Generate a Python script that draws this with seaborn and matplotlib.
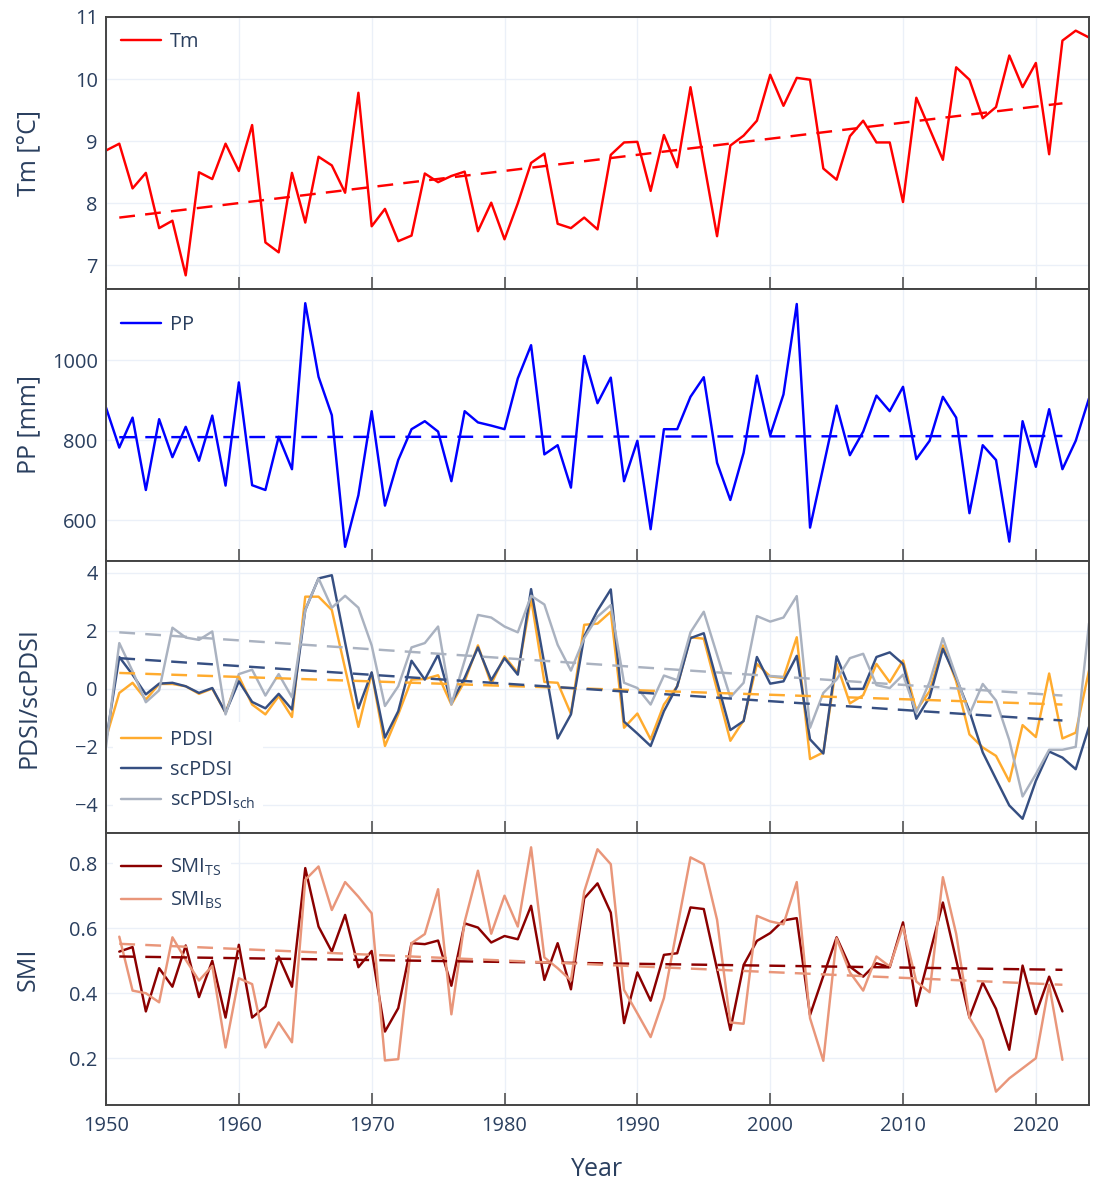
import numpy as np
import matplotlib
matplotlib.use("Agg")
import matplotlib.pyplot as plt
import seaborn as sns

# --- data ---
years = np.arange(1950, 2025)
smi_years = np.arange(1951, 2023)
trend_years = [1951, 2022]

tm = [8.85, 8.96, 8.24, 8.49, 7.60, 7.72, 6.84, 8.50, 8.39, 8.96,
      8.52, 9.26, 7.37, 7.21, 8.49, 7.69, 8.75, 8.61, 8.17, 9.78,
      7.63, 7.91, 7.39, 7.48, 8.48, 8.34, 8.44, 8.51, 7.55, 8.01,
      7.42, 8.00, 8.65, 8.80, 7.67, 7.60, 7.77, 7.58, 8.78, 8.98,
      8.99, 8.20, 9.10, 8.58, 9.87, 8.67, 7.47, 8.93, 9.09, 9.33,
      10.07, 9.57, 10.02, 9.99, 8.56, 8.38, 9.08, 9.33, 8.98, 8.98,
      8.02, 9.70, 9.20, 8.70, 10.19, 9.99, 9.37, 9.55, 10.38, 9.87,
      10.26, 8.79, 10.62, 10.78, 10.67]
tm_trend = [7.77, 9.61]

pp = [881, 781, 856, 675, 852, 757, 833, 748, 861, 686,
      944, 687, 675, 808, 727, 1142, 958, 862, 533, 662,
      872, 636, 750, 827, 847, 821, 697, 872, 844, 836,
      827, 954, 1037, 764, 787, 681, 1010, 892, 956, 697,
      798, 577, 827, 827, 908, 957, 743, 650, 768, 961,
      812, 914, 1140, 581, 733, 886, 762, 821, 911, 872,
      933, 752, 798, 908, 856, 617, 787, 750, 546, 847,
      733, 877, 727, 798, 904]
pp_trend = [807, 810]

pdsi = [-1.70, -0.14, 0.21, -0.37, 0.17, 0.17, 0.09, -0.17, 0.01, -0.82,
        0.43, -0.54, -0.88, -0.25, -0.97, 3.18, 3.18, 2.72, 0.70, -1.31,
        0.55, -1.97, -0.88, 0.32, 0.34, 0.47, -0.54, 0.26, 1.50, 0.17,
        1.12, 0.55, 3.12, 0.24, 0.21, -0.86, 2.21, 2.25, 2.66, -1.34,
        -0.85, -1.74, -0.54, 0.09, 1.78, 1.73, -0.03, -1.79, -1.09, 0.86,
        0.43, 0.38, 1.78, -2.42, -2.19, 0.86, -0.50, -0.22, 0.86, 0.23,
        0.98, -0.74, -0.08, 1.50, 0.26, -1.57, -2.02, -2.31, -3.19, -1.25,
        -1.66, 0.53, -1.71, -1.51, 0.63]
scpdsi = [-1.80, 1.10, 0.49, -0.19, 0.18, 0.21, 0.09, -0.14, 0.03, -0.82,
          0.26, -0.45, -0.67, -0.17, -0.71, 2.72, 3.81, 3.92, 1.60, -0.67,
          0.57, -1.68, -0.77, 0.97, 0.32, 1.18, -0.48, 0.38, 1.43, 0.30,
          1.06, 0.49, 3.44, 0.86, -1.71, -0.88, 1.81, 2.70, 3.43, -1.13,
          -1.54, -1.97, -0.77, 0.09, 1.75, 1.92, 0.25, -1.42, -1.11, 1.10,
          0.18, 0.26, 1.14, -1.74, -2.23, 1.12, 0.00, 0.00, 1.10, 1.26,
          0.86, -1.03, -0.29, 1.38, 0.38, -0.77, -2.19, -3.11, -4.02, -4.48,
          -3.17, -2.16, -2.37, -2.77, -1.31]
scpdsi_sch = [-2.00, 1.58, 0.61, -0.46, -0.05, 2.11, 1.77, 1.69, 1.98, -0.88,
              0.51, 0.66, -0.23, 0.51, -0.29, 2.72, 3.81, 2.80, 3.21, 2.80,
              1.50, -0.59, 0.09, 1.43, 1.58, 2.15, -0.54, 0.98, 2.55, 2.46,
              2.15, 1.95, 3.21, 2.91, 1.52, 0.63, 1.75, 2.49, 2.89, 0.21,
              0.03, -0.54, 0.46, 0.30, 1.95, 2.66, 1.18, -0.29, 0.21, 2.51,
              2.32, 2.46, 3.20, -1.34, -0.14, 0.32, 1.06, 1.21, 0.13, 0.03,
              0.49, -0.82, 0.24, 1.75, 0.43, -0.88, 0.17, -0.40, -1.77, -3.71,
              -2.94, -2.10, -2.10, -2.00, 2.26]
pdsi_trend = [0.55, -0.54]
scpdsi_trend = [1.06, -1.09]
sch_trend = [1.95, -0.23]

smi_ts = [0.528, 0.542, 0.344, 0.477, 0.420, 0.547, 0.388, 0.500, 0.325,
          0.549, 0.325, 0.359, 0.513, 0.420, 0.785, 0.605, 0.528, 0.641, 0.480,
          0.530, 0.282, 0.354, 0.554, 0.551, 0.562, 0.423, 0.615, 0.602, 0.556,
          0.576, 0.566, 0.669, 0.441, 0.554, 0.412, 0.692, 0.738, 0.648, 0.308,
          0.464, 0.377, 0.518, 0.523, 0.664, 0.659, 0.474, 0.287, 0.487, 0.561,
          0.585, 0.624, 0.631, 0.333, 0.453, 0.572, 0.482, 0.451, 0.492, 0.480,
          0.618, 0.361, 0.520, 0.679, 0.503, 0.325, 0.433, 0.352, 0.226, 0.485,
          0.336, 0.451, 0.344]
smi_bs = [0.574, 0.408, 0.400, 0.372, 0.572, 0.503, 0.439, 0.484, 0.233,
          0.446, 0.428, 0.233, 0.310, 0.249, 0.749, 0.790, 0.656, 0.742, 0.697,
          0.646, 0.193, 0.197, 0.554, 0.582, 0.720, 0.335, 0.620, 0.777, 0.583,
          0.700, 0.605, 0.849, 0.510, 0.477, 0.439, 0.713, 0.843, 0.797, 0.410,
          0.338, 0.265, 0.385, 0.602, 0.818, 0.797, 0.626, 0.310, 0.306, 0.638,
          0.621, 0.612, 0.742, 0.323, 0.192, 0.569, 0.464, 0.408, 0.513, 0.482,
          0.605, 0.436, 0.403, 0.757, 0.583, 0.325, 0.256, 0.097, 0.138, 0.169,
          0.200, 0.426, 0.195]
smi_ts_trend = [0.513, 0.472]
smi_bs_trend = [0.552, 0.426]

x_ticks = [1950, 1960, 1970, 1980, 1990, 2000, 2010, 2020]

# --- style ---
sns.set_theme(style="white")
plt.rcParams['font.family'] = ['Open Sans', 'DejaVu Sans']
plt.rcParams['mathtext.default'] = 'regular'

TEXT = '#2a3f5f'
GRID = '#ebf0f8'
FRAME = '#444444'
LW = 1.75
DASH = (0, (6.5, 4.2))

fig = plt.figure(figsize=(10.99, 11.85), dpi=100)
gs = fig.add_gridspec(4, 1, left=106 / 1099, right=1089 / 1099,
                      top=1 - 17 / 1185, bottom=1 - 1105 / 1185, hspace=0)
axes = [fig.add_subplot(gs[i]) for i in range(4)]


def style_axis(ax, ylim, yticks, ylabel, show_x=False):
    ax.set_xlim(1950, 2024)
    ax.set_ylim(*ylim)
    ax.set_xticks(x_ticks)
    ax.set_yticks(yticks)
    ax.grid(True, color=GRID, lw=1.0)
    ax.set_axisbelow(True)
    for s in ax.spines.values():
        s.set_color(FRAME)
        s.set_linewidth(1.4)
        s.set_visible(True)
    ax.tick_params(axis='x', direction='in', length=9, width=1.1, color=FRAME,
                   bottom=True, top=False, labelbottom=show_x, labelsize=14.4,
                   labelcolor=TEXT, pad=8)
    ax.tick_params(axis='y', length=0, labelsize=14.4, labelcolor=TEXT, pad=6)
    ax.set_ylabel(ylabel, fontsize=18, color=TEXT)
    ax.yaxis.set_label_coords(-0.066, 0.5)


def add_legend(ax, handles, labels, anchor, spacing=0.45):
    leg = ax.legend(handles, labels, loc='upper left', bbox_to_anchor=anchor,
                    fontsize=14.4, handlelength=2.0, handletextpad=0.45,
                    labelspacing=spacing, borderpad=0.4, borderaxespad=0,
                    frameon=True, fancybox=False)
    leg.get_frame().set_facecolor('white')
    leg.get_frame().set_edgecolor('none')
    leg.get_frame().set_alpha(1)
    for t in leg.get_texts():
        t.set_color(TEXT)
    return leg


# panel 1: Tm
ax = axes[0]
sns.lineplot(x=years, y=tm, ax=ax, color='#ff0000', lw=LW, legend=False)
sns.lineplot(x=trend_years, y=tm_trend, ax=ax, color='#ff0000', lw=LW,
             linestyle=DASH, legend=False)
style_axis(ax, (6.62, 11.0), [7, 8, 9, 10, 11], 'Tm [°C]')
add_legend(ax, ax.lines[:1], ['Tm'], (0.007, 0.974))

# panel 2: PP
ax = axes[1]
sns.lineplot(x=years, y=pp, ax=ax, color='#0000ff', lw=LW, legend=False)
sns.lineplot(x=trend_years, y=pp_trend, ax=ax, color='#0000ff', lw=LW,
             linestyle=DASH, legend=False)
style_axis(ax, (497.5, 1177.5), [600, 800, 1000], 'PP [mm]')
add_legend(ax, ax.lines[:1], ['PP'], (0.007, 0.934))

# panel 3: PDSI family
ax = axes[2]
c_pdsi, c_sc, c_sch = '#ffab2e', '#364f82', '#aab2c0'
sns.lineplot(x=years, y=pdsi, ax=ax, color=c_pdsi, lw=LW, legend=False)
sns.lineplot(x=years, y=scpdsi, ax=ax, color=c_sc, lw=LW, legend=False)
sns.lineplot(x=years, y=scpdsi_sch, ax=ax, color=c_sch, lw=LW, legend=False)
sns.lineplot(x=trend_years, y=pdsi_trend, ax=ax, color=c_pdsi, lw=LW,
             linestyle=DASH, legend=False)
sns.lineplot(x=trend_years, y=scpdsi_trend, ax=ax, color=c_sc, lw=LW,
             linestyle=DASH, legend=False)
sns.lineplot(x=trend_years, y=sch_trend, ax=ax, color=c_sch, lw=LW,
             linestyle=DASH, legend=False)
style_axis(ax, (-4.97, 4.41), [-4, -2, 0, 2, 4], 'PDSI/scPDSI')
add_legend(ax, ax.lines[:3], ['PDSI', 'scPDSI', r'scPDSI$_{sch}$'],
           (0.007, 0.409), spacing=0.5)

# panel 4: SMI
ax = axes[3]
c_ts, c_bs = '#8b0000', '#e9967a'
sns.lineplot(x=smi_years, y=smi_ts, ax=ax, color=c_ts, lw=LW, legend=False)
sns.lineplot(x=smi_years, y=smi_bs, ax=ax, color=c_bs, lw=LW, legend=False)
sns.lineplot(x=trend_years, y=smi_ts_trend, ax=ax, color=c_ts, lw=LW,
             linestyle=DASH, legend=False)
sns.lineplot(x=trend_years, y=smi_bs_trend, ax=ax, color=c_bs, lw=LW,
             linestyle=DASH, legend=False)
style_axis(ax, (0.056, 0.893), [0.2, 0.4, 0.6, 0.8], 'SMI', show_x=True)
add_legend(ax, ax.lines[:2], [r'SMI$_{TS}$', r'SMI$_{BS}$'],
           (0.007, 0.942), spacing=0.6)
ax.set_xlabel('Year', fontsize=18, color=TEXT, labelpad=15)

fig.savefig('out.png', dpi=100)
